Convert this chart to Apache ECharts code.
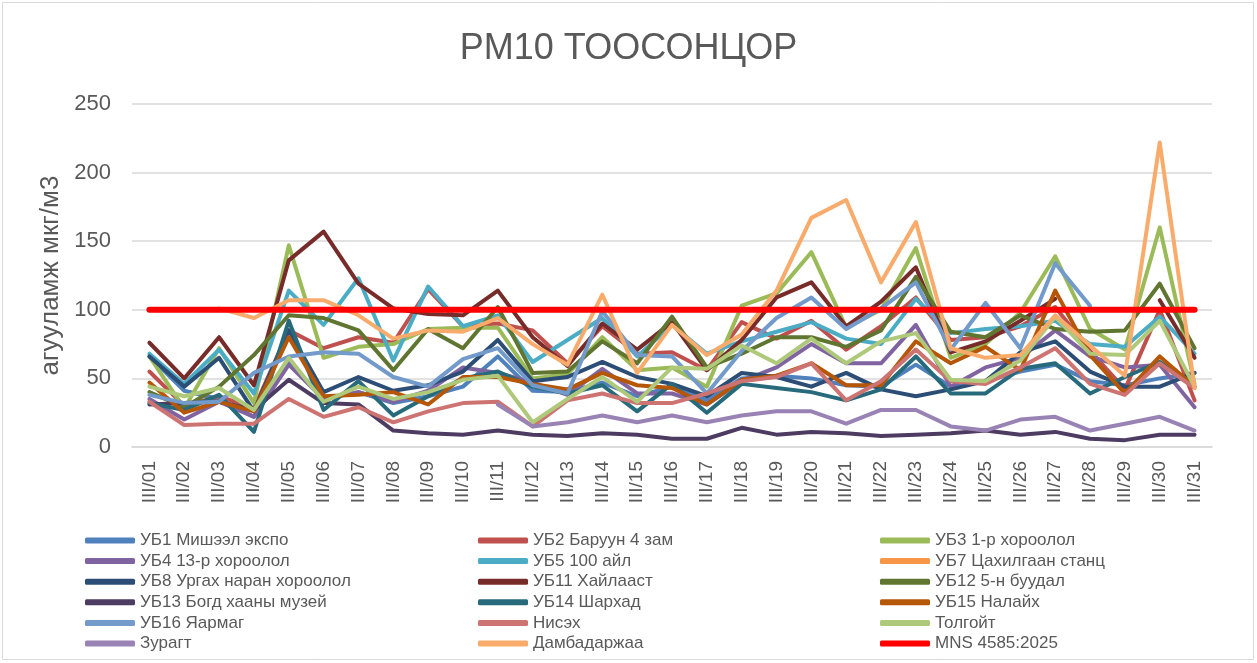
<!DOCTYPE html>
<html>
<head>
<meta charset="utf-8">
<title>PM10 ТООСОНЦОР</title>
<script src="https://cdn.jsdelivr.net/npm/echarts@6/dist/echarts.min.js"></script>
<style>
    html, body { margin: 0; padding: 0; background: #fff; }
    #chart { width: 1257px; height: 663px; }
</style>
</head>
<body>
<div id="chart"></div>
<script>
// days of March
const days = [];
for (let d = 1; d <= 31; d++) days.push('III/' + (d < 10 ? '0' + d : d));

const ub1  = [66,41,35,22,62,35,40,32,37,44,66,41,40,47,37,44,34,50,52,50,45,44,60,44,48,55,60,48,45,50,54];
const ub2  = [55,30,37,28,85,72,80,76,115,88,90,85,61,88,68,69,56,91,79,92,71,88,109,78,80,88,102,70,42,100,34];
const ub3  = [66,28,72,32,147,65,73,75,86,87,87,50,53,80,56,58,44,103,112,142,87,100,145,65,75,98,139,86,71,160,46];
const ub4  = [35,20,33,22,60,35,40,33,41,58,54,47,38,57,39,39,31,48,58,75,61,61,89,44,58,65,85,66,58,60,29];
const ub5  = [68,46,71,39,114,89,123,63,117,88,96,62,78,94,66,89,68,77,84,91,79,75,108,83,86,88,92,75,73,95,68];
const ub7  = new Array(31).fill(null);
const ub8  = [66,44,65,26,85,40,51,41,45,55,78,48,51,62,51,46,37,54,51,44,54,42,37,42,48,69,77,55,44,44,54];
const ub11 = [76,50,80,45,136,157,119,101,97,96,114,80,59,90,71,91,56,78,109,120,88,106,131,69,77,92,108,null,null,107,65];
const ub12 = [40,29,44,67,96,94,85,56,86,72,102,54,55,77,61,95,58,68,80,80,73,85,124,84,80,96,86,84,85,119,72];
const ub13 = [31,32,33,27,49,32,31,12,10,9,12,9,8,10,9,6,6,14,9,11,10,8,9,10,12,9,11,6,5,9,9];
const ub14 = [32,27,38,11,92,27,48,23,37,50,55,44,39,45,26,46,25,46,43,40,34,42,66,39,39,57,61,39,51,62,44];
const ub15 = [47,25,33,26,80,37,38,40,31,51,51,46,42,54,45,43,31,49,52,61,45,45,77,61,73,56,114,67,39,66,44];
const ub16 = [38,32,33,54,66,69,68,51,44,64,72,45,39,99,67,66,39,70,94,109,86,101,120,71,105,72,134,103,null,null,null];
const niseh = [33,16,17,17,35,22,29,18,26,32,33,15,34,39,32,32,39,48,51,61,34,48,71,48,46,58,72,46,38,61,43];
const tolgoit = [44,37,43,27,65,33,44,35,40,49,52,18,35,51,33,58,57,74,61,79,61,77,83,49,48,63,95,68,67,92,44];
const zuragt = [null,null,null,null,null,null,null,null,null,null,31,15,18,23,18,23,18,23,26,26,17,27,27,15,12,20,22,12,17,22,12];
const dambadarjaa = [null,null,101,94,107,107,96,79,85,84,94,75,60,111,54,89,67,82,114,167,180,120,164,72,65,67,96,74,52,222,43];
const mns = new Array(31).fill(100);

const seriesList = [
    { name: 'УБ1 Мишээл экспо', data: ub1, color: '#4F81BD' },
    { name: 'УБ2 Баруун 4 зам', data: ub2, color: '#C0504D' },
    { name: 'УБ3 1-р хороолол', data: ub3, color: '#9BBB59' },
    { name: 'УБ4 13-р хороолол', data: ub4, color: '#8064A2' },
    { name: 'УБ5 100 айл', data: ub5, color: '#4BACC6' },
    { name: 'УБ7 Цахилгаан станц', data: ub7, color: '#F79646' },
    { name: 'УБ8 Ургах наран хороолол', data: ub8, color: '#2C4D75' },
    { name: 'УБ11 Хайлааст', data: ub11, color: '#772C2A' },
    { name: 'УБ12 5-н буудал', data: ub12, color: '#5F7530' },
    { name: 'УБ13 Богд хааны музей', data: ub13, color: '#4D3B62' },
    { name: 'УБ14 Шархад', data: ub14, color: '#276A7C' },
    { name: 'УБ15 Налайх', data: ub15, color: '#B65708' },
    { name: 'УБ16 Яармаг', data: ub16, color: '#729ACA' },
    { name: 'Нисэх', data: niseh, color: '#CD7371' },
    { name: 'Толгойт', data: tolgoit, color: '#AFC97A' },
    { name: 'Зурагт', data: zuragt, color: '#9983B5' },
    { name: 'Дамбадаржаа', data: dambadarjaa, color: '#F9AB6B' },
    { name: 'MNS 4585:2025', data: mns, color: '#FF0000' }
];

const textColor = '#595959';
const font = 'Liberation Sans, Arial, sans-serif';

// legend is laid out in 3 columns, row by row
function legendColumn(col, left) {
    return {
        orient: 'vertical',
        left: left,
        top: 527,
        height: 136,
        itemWidth: 50,
        itemHeight: 6,
        itemGap: 3.6,
        icon: 'roundRect',
        textStyle: { color: textColor, fontSize: 17, lineHeight: 17, fontFamily: font },
        data: seriesList.filter((s, i) => i % 3 === col).map(s => s.name)
    };
}

const chart = echarts.init(document.getElementById('chart'));

chart.setOption({
    animation: false,
    backgroundColor: '#fff',
    title: {
        text: 'PM10 ТООСОНЦОР',
        left: 'center',
        top: 26,
        textStyle: { color: textColor, fontSize: 36, fontWeight: 'normal', fontFamily: font }
    },
    graphic: [{
        type: 'rect',
        shape: { x: 2.5, y: 2.5, width: 1251, height: 657 },
        style: { fill: 'none', stroke: '#d9d9d9', lineWidth: 1 },
        silent: true
    }],
    legend: [legendColumn(0, 80), legendColumn(1, 473), legendColumn(2, 875)],
    grid: { left: 132, right: 45, top: 104, bottom: 216 },
    xAxis: {
        type: 'category',
        data: days,
        boundaryGap: true,
        axisLine: { lineStyle: { color: '#d9d9d9', width: 1.5 } },
        axisTick: { show: false },
        axisLabel: { rotate: 90, color: textColor, fontSize: 19, margin: 14, interval: 0, fontFamily: font }
    },
    yAxis: {
        type: 'value',
        min: 0,
        max: 250,
        interval: 50,
        name: 'агууламж мкг/м3',
        nameLocation: 'middle',
        nameGap: 67,
        nameTextStyle: { color: textColor, fontSize: 26, fontFamily: font },
        axisLabel: { color: textColor, fontSize: 22, margin: 21, fontFamily: font },
        splitLine: { lineStyle: { color: '#d9d9d9', width: 1.5 } }
    },
    series: seriesList.map(s => ({
        name: s.name,
        type: 'line',
        data: s.data,
        symbol: 'none',
        connectNulls: false,
        color: s.color,
        lineStyle: { color: s.color, width: s.name.startsWith('MNS') ? 6 : 4, cap: 'round', join: 'round' },
        z: s.name.startsWith('MNS') ? 5 : 2
    }))
});
</script>
</body>
</html>
